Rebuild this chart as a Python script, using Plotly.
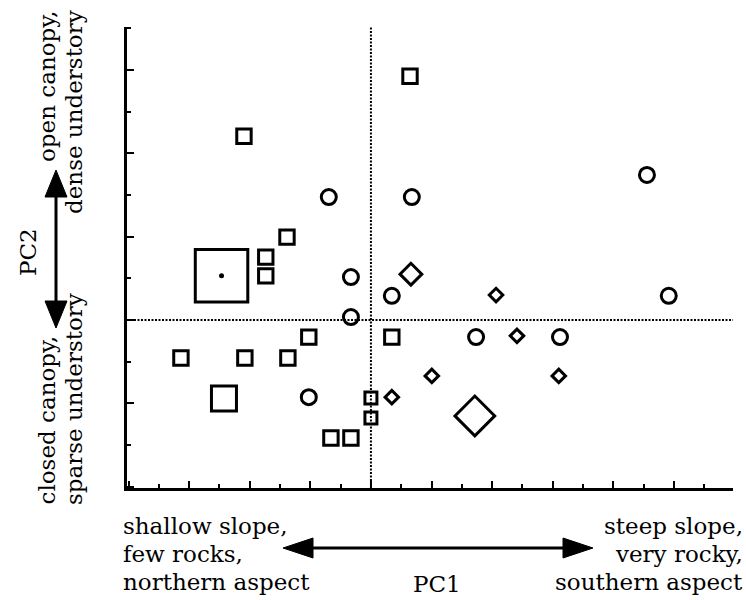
import plotly.graph_objects as go

# ---------------- data ----------------
# squares
sq_x = [1.29, -4.19, -2.77, -3.47, -3.47, -6.27, -4.16, -2.74, -2.05, 0.69, -1.32, -0.66, 0.0, 0.0, -4.85, -4.93]
sq_y = [5.85, 4.41, 1.99, 1.51, 1.06, -0.91, -0.91, -0.91, -0.41, -0.41, -2.83, -2.83, -1.87, -2.35, -1.88, 1.06]
sq_w = [2, 2, 2, 2, 2, 2, 2, 2, 2, 2, 2, 2, 1, 1, 4, 8]
# circles
ci_x = [-1.39, 1.35, -0.66, -0.66, 0.69, -2.05, 3.47, 6.24, 9.11, 9.83]
ci_y = [2.95, 2.95, 1.03, 0.07, 0.58, -1.85, -0.41, -0.41, 3.48, 0.58]
# diamonds
di_x = [4.13, 4.82, 2.01, 6.20, 0.69, 1.32, 3.43]
di_y = [0.60, -0.38, -1.34, -1.34, -1.85, 1.10, -2.30]
di_w = [1, 1, 1, 1, 1, 2, 4]
# marked point (dot inside the large square)
dot_x = [-4.93]
dot_y = [1.06]

x_range = [-8.05, 11.95]
y_range = [-4.03, 7.03]

left_lines = ["shallow slope,", "few rocks,", "northern aspect"]
right_lines = ["steep slope,", "very rocky,", "southern aspect"]
top_lines = ["open canopy,", "dense understory"]
bottom_lines = ["closed canopy,", "sparse understory"]
x_title = "PC1"
y_title = "PC2"

# ---------------- styling ----------------
W, H = 746, 600
L, R, T, B = 127, 733, 27, 488
FONT = "'DejaVu Serif', 'Liberation Serif', serif"
FS = 23
LW = 3

sq_size = {1: 12, 2: 14.4, 4: 25, 8: 52.5}
di_size = {1: 10.4, 2: 16.8, 4: 30.6}


def px(x):
    return (x - L) / (R - L)


def py(y):
    return (B - y) / (B - T)


fig = go.Figure()
fig.add_trace(go.Scatter(
    x=sq_x, y=sq_y, mode="markers",
    marker=dict(symbol="square-open", size=[sq_size[w] for w in sq_w], opacity=1,
                color="black", line=dict(color="black", width=LW)),
    showlegend=False, hoverinfo="skip"))
fig.add_trace(go.Scatter(
    x=ci_x, y=ci_y, mode="markers",
    marker=dict(symbol="circle-open", size=15, opacity=1,
                color="black", line=dict(color="black", width=LW)),
    showlegend=False, hoverinfo="skip"))
fig.add_trace(go.Scatter(
    x=di_x, y=di_y, mode="markers",
    marker=dict(symbol="diamond-open", size=[di_size[w] for w in di_w], opacity=1,
                color="black", line=dict(color="black", width=LW)),
    showlegend=False, hoverinfo="skip"))
fig.add_trace(go.Scatter(
    x=dot_x, y=dot_y, mode="markers",
    marker=dict(symbol="circle", size=5, color="black", opacity=1),
    showlegend=False, hoverinfo="skip"))

shapes = []
# dotted zero lines
shapes.append(dict(type="line", xref="x", yref="paper", x0=0, x1=0, y0=0, y1=1,
                   line=dict(color="black", width=2, dash="2px,1.5px"), layer="below"))
shapes.append(dict(type="line", xref="paper", yref="y", x0=0, x1=1, y0=0, y1=0,
                   line=dict(color="black", width=2, dash="2px,1.5px"), layer="below"))

# horizontal double arrow
ay = 548
hx0, hx1 = 283, 593
hl, hw = 30, 10
shapes.append(dict(type="line", xref="paper", yref="paper",
                   x0=px(hx0 + hl - 2), x1=px(hx1 - hl + 2), y0=py(ay), y1=py(ay),
                   line=dict(color="black", width=3)))
shapes.append(dict(type="path", xref="paper", yref="paper",
                   path=f"M {px(hx0)},{py(ay)} L {px(hx0 + hl)},{py(ay - hw)} L {px(hx0 + hl)},{py(ay + hw)} Z",
                   fillcolor="black", line=dict(color="black", width=1)))
shapes.append(dict(type="path", xref="paper", yref="paper",
                   path=f"M {px(hx1)},{py(ay)} L {px(hx1 - hl)},{py(ay - hw)} L {px(hx1 - hl)},{py(ay + hw)} Z",
                   fillcolor="black", line=dict(color="black", width=1)))

# vertical double arrow
ax = 56
vy0, vy1 = 170, 328
vl, vw = 27, 11
shapes.append(dict(type="line", xref="paper", yref="paper",
                   x0=px(ax), x1=px(ax), y0=py(vy0 + vl - 2), y1=py(vy1 - vl + 2),
                   line=dict(color="black", width=3)))
shapes.append(dict(type="path", xref="paper", yref="paper",
                   path=f"M {px(ax)},{py(vy0)} L {px(ax - vw)},{py(vy0 + vl)} L {px(ax + vw)},{py(vy0 + vl)} Z",
                   fillcolor="black", line=dict(color="black", width=1)))
shapes.append(dict(type="path", xref="paper", yref="paper",
                   path=f"M {px(ax)},{py(vy1)} L {px(ax - vw)},{py(vy1 - vl)} L {px(ax + vw)},{py(vy1 - vl)} Z",
                   fillcolor="black", line=dict(color="black", width=1)))

annotations = []
font = dict(family=FONT, size=FS, color="black")
OFF = 8  # baseline -> box centre
baselines = [534, 562, 590]
for txt, b in zip(left_lines, baselines):
    annotations.append(dict(text=txt, xref="paper", yref="paper", x=px(121), y=py(b - OFF),
                            xanchor="left", yanchor="middle", showarrow=False, font=font))
for txt, b in zip(right_lines, baselines):
    annotations.append(dict(text=txt, xref="paper", yref="paper", x=px(745), y=py(b - OFF),
                            xanchor="right", yanchor="middle", showarrow=False, font=font))
annotations.append(dict(text=x_title, xref="paper", yref="paper", x=px(437), y=py(592 - OFF),
                        xanchor="center", yanchor="middle", showarrow=False, font=font))

# rotated texts on the left
for txt, bx in zip(top_lines, [55, 82]):
    annotations.append(dict(text=txt, xref="paper", yref="paper", x=px(bx - OFF), y=py(8),
                            xanchor="center", yanchor="top", textangle=-90,
                            showarrow=False, font=font))
for txt, bx in zip(bottom_lines, [55, 82]):
    annotations.append(dict(text=txt, xref="paper", yref="paper", x=px(bx - OFF), y=py(507),
                            xanchor="center", yanchor="bottom", textangle=-90,
                            showarrow=False, font=font))
annotations.append(dict(text=y_title, xref="paper", yref="paper", x=px(36 - OFF), y=py(252),
                        xanchor="center", yanchor="middle", textangle=-90,
                        showarrow=False, font=font))

axis_common = dict(showgrid=False, zeroline=False, showticklabels=False,
                   showline=True, linecolor="black", linewidth=3,
                   ticks="inside", ticklen=7, tickwidth=2, tickcolor="black",
                   tick0=0, dtick=2,
                   minor=dict(ticks="inside", ticklen=4, tickwidth=2, tickcolor="black", dtick=1, tick0=0))

fig.update_layout(
    width=W, height=H,
    margin=dict(l=L, r=W - R, t=T, b=H - B, pad=0),
    paper_bgcolor="white", plot_bgcolor="white",
    xaxis=dict(range=x_range, **axis_common),
    yaxis=dict(range=y_range, **axis_common),
    shapes=shapes, annotations=annotations,
)

fig.write_html("out.html")
